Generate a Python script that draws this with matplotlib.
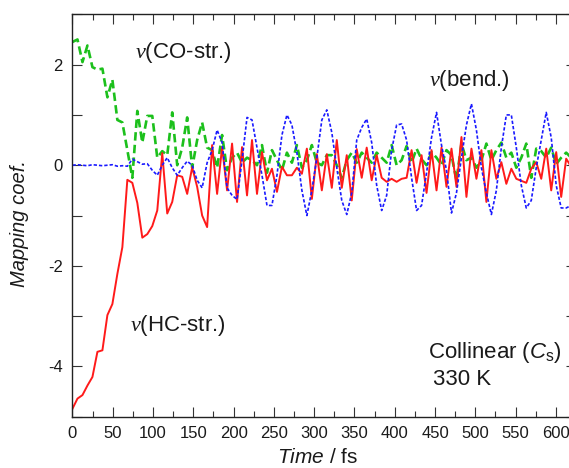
import numpy as np
import matplotlib.pyplot as plt
from matplotlib.ticker import MultipleLocator, FuncFormatter

plt.rcParams['font.family'] = ['Liberation Sans', 'DejaVu Sans']
plt.rcParams['mathtext.fontset'] = 'custom'
plt.rcParams['mathtext.rm'] = 'Liberation Serif:italic'  ## used only for the nu glyph
plt.rcParams['mathtext.it'] = 'Liberation Sans:italic'
plt.rcParams['mathtext.sf'] = 'Liberation Sans'

## sampling step of the trajectory output (fs)
dt = 6.19

hc_str = [-4.84, -4.64, -4.57, -4.38, -4.21, -3.71, -3.68, -2.98, -2.76, -2.16,
          -1.63, -0.29, -0.35, -0.75, -1.44, -1.37, -1.21, -0.90, 0.24, -0.96,
          -0.73, -0.20, -0.23, -0.57, -0.04, -0.43, -1.00, -1.23, 0.40, -0.57,
          0.36, -0.50, 0.43, -0.73, 0.36, -0.60, 0.50, -0.57, 0.26, -0.30,
          -0.07, -0.53, -0.03, -0.20, -0.20, -0.05, -0.17, 0.33, -0.67, 0.22,
          -0.50, 0.22, -0.45, 0.50, -0.45, 0.20, -0.70, 0.32, -0.25, 0.35,
          -0.30, 0.20, -0.25, -0.33, -0.27, -0.33, -0.27, -0.25, 0.30, -0.35,
          0.20, -0.55, 0.30, -0.50, 0.35, -0.43, 0.33, -0.43, 0.56, -0.63,
          0.33, -0.27, 0.30, -0.73, 0.30, -0.27, 0.06, -0.37, -0.07, -0.27,
          -0.31, -0.35, -0.07, 0.06, -0.27, 0.33, -0.50, 0.26, -0.63, 0.13,
          -0.03]

co_str = [2.45, 2.50, 2.05, 2.38, 1.95, 1.90, 1.92, 1.35, 1.70, 0.90,
          0.85, 0.30, -0.25, 1.08, 0.45, 0.98, 0.98, 0.15, 0.28, 0.20,
          1.05, 0.00, 0.35, 0.95, -0.05, 0.50, 0.85, 0.35, 0.30, -0.05,
          0.60, -0.10, 0.15, 0.25, 0.05, 0.15, 0.10, 0.00, 0.40, -0.15,
          0.30, 0.10, -0.10, 0.25, 0.05, 0.40, -0.05, 0.10, 0.40, 0.05,
          0.00, 0.20, 0.20, 0.00, -0.25, 0.10, 0.25, 0.05, 0.25, 0.15,
          0.05, 0.25, 0.15, 0.05, 0.40, 0.00, 0.10, 0.38, 0.05, 0.33,
          0.12, 0.00, 0.26, 0.15, 0.00, 0.30, 0.20, -0.30, 0.43, 0.10,
          0.15, -0.05, 0.10, 0.43, 0.10, 0.30, 0.45, 0.15, 0.25, -0.05,
          0.15, 0.43, -0.25, 0.33, 0.28, 0.15, 0.35, 0.02, 0.15, 0.25,
          0.15]

bend = [0.00, 0.01, 0.00, -0.01, 0.01, 0.00, -0.01, 0.00, 0.01, -0.02,
        -0.01, -0.02, 0.12, 0.07, 0.02, 0.03, -0.10, -0.20, 0.00, 0.15,
        -0.05, -0.20, -0.05, 0.08, 0.00, -0.30, -0.45, 0.05, 0.30, 0.70,
        0.45, -0.45, -0.60, -0.68, 0.10, 0.95, 0.90, 0.35, -0.20, -0.80,
        -0.80, -0.20, 0.60, 1.00, 0.80, 0.25, -0.50, -1.00, -0.50, 0.15,
        0.90, 1.10, 0.65, -0.05, -0.70, -0.98, -0.55, 0.50, 0.75, 0.92,
        0.45, -0.40, -0.90, -0.60, 0.30, 0.80, 0.82, 0.50, -0.25, -0.90,
        -0.80, -0.15, 0.55, 1.05, 0.40, -0.10, -0.95, -0.55, 0.15, 0.80,
        1.22, 0.70, -0.05, -0.55, -0.98, -0.50, 0.35, 1.00, 1.00, 0.35,
        -0.40, -0.85, -0.70, -0.05, 0.50, 1.05, 0.55, -0.40, -0.85, -0.85,
        -0.80]

time = np.arange(len(hc_str)) * dt

fig = plt.figure(figsize=(5.69, 4.68), dpi=100)
ax = fig.add_axes([0.1274, 0.1096, 0.8849, 0.8598])  ## right edge runs past the figure, as in the original

ax.plot(time, co_str, color="#1cc01c", lw=1.9, dashes=(3.2, 1.6))
ax.plot(time, hc_str, color="#ff1a1a", lw=1.4)
ax.plot(time, bend, color="#1a1aff", lw=1.2, dashes=(2.0, 1.2))

ax.set_xlim(0, 625)
ax.set_ylim(-5, 3)

ax.xaxis.set_major_locator(MultipleLocator(50))
ax.xaxis.set_minor_locator(MultipleLocator(25))
ax.yaxis.set_major_locator(MultipleLocator(1))
ax.yaxis.set_major_formatter(FuncFormatter(lambda v, p: f"{v:.0f}" if round(v) % 2 == 0 else ""))

ax.tick_params(which="both", direction="in", top=True, right=True,
               labelsize=12, pad=7, width=0.8, color="#333333", labelcolor="#1a1a1a")
ax.tick_params(which="major", length=7)
ax.tick_params(which="minor", length=4.3)
for s in ax.spines.values():
    s.set_linewidth(1.0)
    s.set_color("#222222")

ax.set_xlabel(r"$\mathit{Time}$ / fs", fontsize=15, color="#1a1a1a")
ax.set_ylabel("Mapping coef.", fontsize=14.5, fontstyle="italic", color="#1a1a1a")
ax.xaxis.set_label_coords(0.4876, -0.078)
ax.yaxis.set_label_coords(-0.0864, 0.48)

txt = dict(fontsize=16, color="#1a1a1a", ha="left", va="center")
ax.text(77.5, 2.24, r"$\mathrm{\nu}$(CO-str.)", **txt)
ax.text(443, 1.69, r"$\mathrm{\nu}$(bend.)", **txt)
ax.text(71, -3.18, r"$\mathrm{\nu}$(HC-str.)", **txt)
ax.text(441, -3.72, r"Collinear ($C_\mathsf{s}$)", **txt)
ax.text(447, -4.27, "330 K", **txt)

fig.savefig("out.png", dpi=100)
